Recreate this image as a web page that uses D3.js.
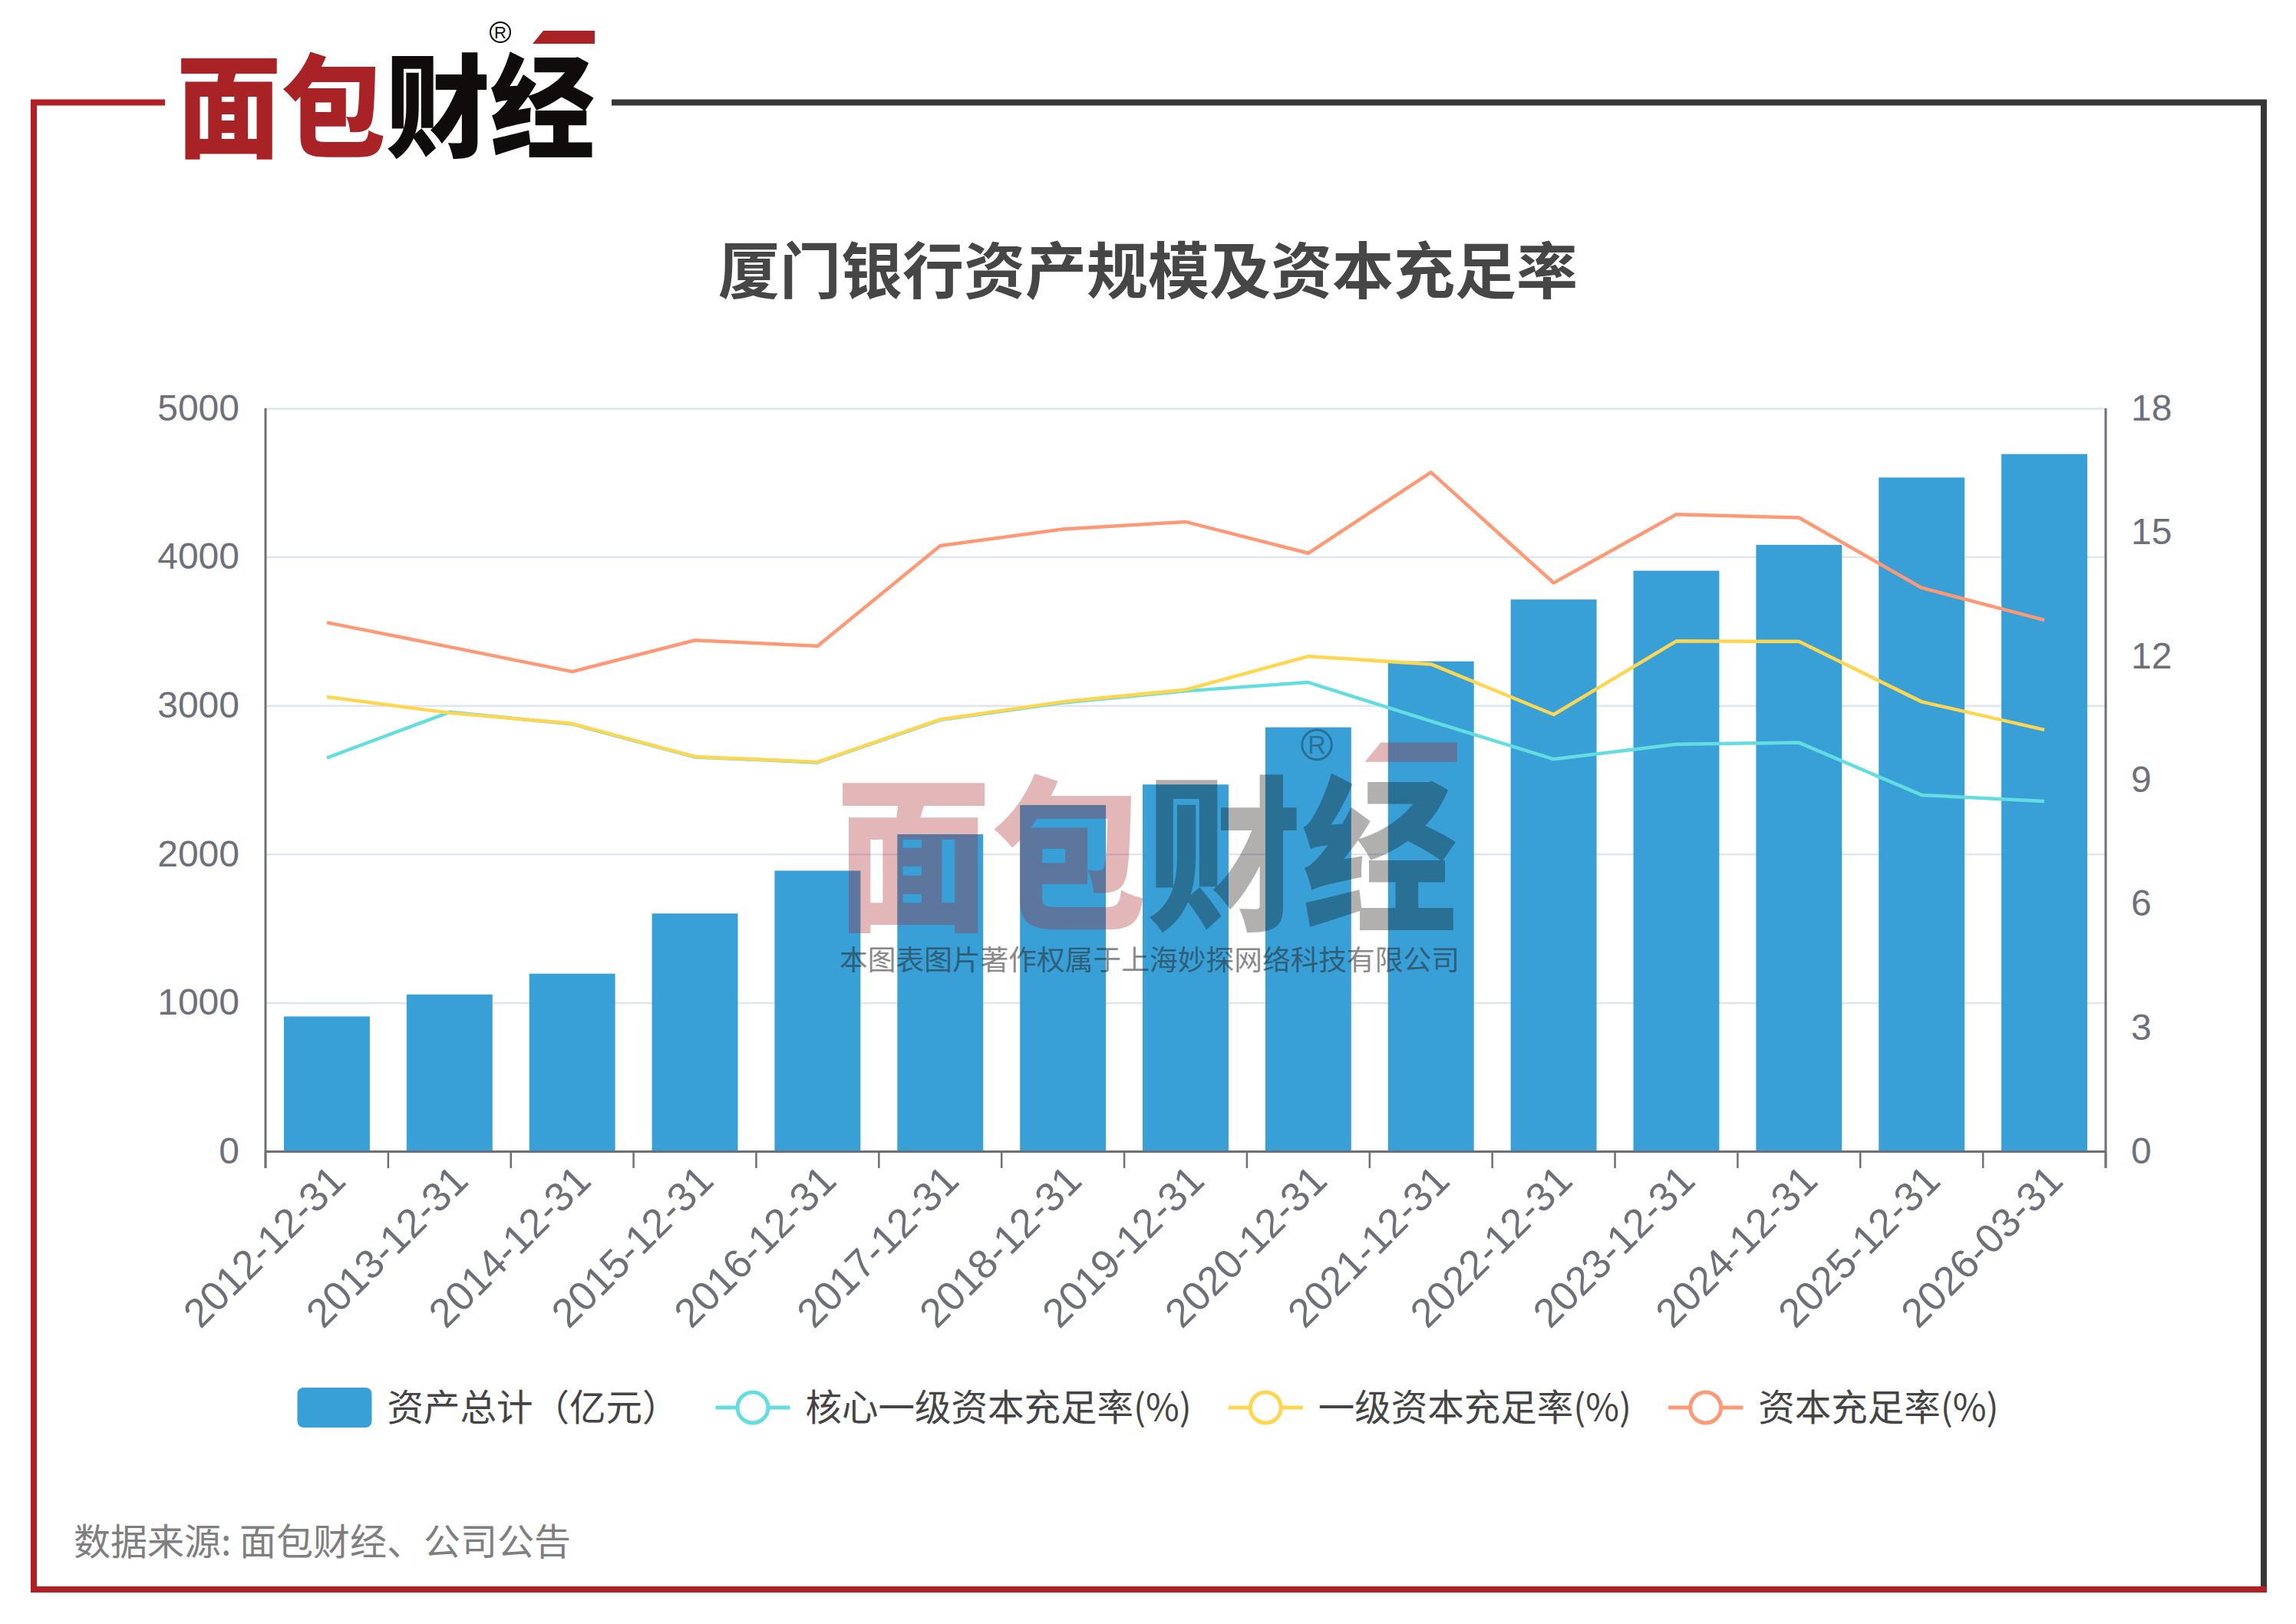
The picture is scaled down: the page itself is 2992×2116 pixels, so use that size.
<!DOCTYPE html>
<html>
<head>
<meta charset="utf-8">
<script src="https://cdn.jsdelivr.net/npm/d3@7.9.0/dist/d3.min.js"></script>
<style>
  body { margin: 0; background: #fff; }
  svg { display: block; }
  text { font-family: "Liberation Sans", Arial, sans-serif; }
  .cjk { font-family: "Noto Sans CJK SC", sans-serif; }
</style>
</head>
<body>
<svg id="chart"></svg>
<script>
// data
const dates = ['2012-12-31', '2013-12-31', '2014-12-31', '2015-12-31', '2016-12-31', '2017-12-31',
  '2018-12-31', '2019-12-31', '2020-12-31', '2021-12-31', '2022-12-31', '2023-12-31',
  '2024-12-31', '2025-12-31', '2026-03-31'];
const totalAssets = [907, 1055, 1195, 1600, 1888, 2133, 2330, 2468, 2853, 3297, 3713, 3907, 4081, 4534, 4692];
const coreTier1 = [9.53, 10.64, 10.35, 9.55, 9.42, 10.45, 10.87, 11.15, 11.36, 10.42, 9.50, 9.86, 9.90, 8.63, 8.48];
const tier1 = [11.01, 10.62, 10.36, 9.56, 9.43, 10.46, 10.89, 11.18, 11.99, 11.80, 10.58, 12.36, 12.35, 10.89, 10.21];
const capital = [12.81, 12.22, 11.62, 12.38, 12.24, 14.67, 15.07, 15.25, 14.49, 16.45, 13.77, 15.43, 15.35, 13.65, 12.87];
const leftTicks = [0, 1000, 2000, 3000, 4000, 5000];
const rightTicks = [0, 3, 6, 9, 12, 15, 18];

const title = '厦门银行资产规模及资本充足率';
const source = '数据来源: 面包财经、公司公告';
const legendNames = ['资产总计（亿元）', '核心一级资本充足率(%)', '一级资本充足率(%)', '资本充足率(%)'];

const width = 2992;
const height = 2116;
const colors = { bar: '#389fd7', core: '#63dde0', tier1: '#ffd64f', capital: '#ff9875' };
const axisColor = '#6e7079';
const red = '#b41e25';
const dark = '#363636';

const svg = d3.select('#chart').attr('width', width).attr('height', height);
svg.append('rect').attr('width', width).attr('height', height).attr('fill', '#fff');

const area = { left: 346, right: 2744, top: 532, bottom: 1500 };

// frame
const frame = svg.append('g');
frame.append('path').attr('d', 'M797,133.5 H2950 V2067').attr('fill', 'none').attr('stroke', dark).attr('stroke-width', 8);
frame.append('path').attr('d', 'M215,133.5 H44 V2071 H2954').attr('fill', 'none').attr('stroke', red).attr('stroke-width', 8);

// logo drawn in local coords: letters 545 wide, top at 0
function drawLogo(g, colRed, colDark) {
  const t = g.append('text').attr('class', 'cjk').attr('x', 0).attr('y', 121)
    .attr('font-size', 146).attr('font-weight', 900)
    .attr('textLength', 545).attr('lengthAdjust', 'spacingAndGlyphs');
  t.append('tspan').attr('fill', colRed).text('面包');
  t.append('tspan').attr('fill', colDark).text('财经');
  g.append('path').attr('d', 'M478,-32 H545 V-15 H464 Z').attr('fill', colRed);
  g.append('circle').attr('cx', 422).attr('cy', -30).attr('r', 13)
    .attr('fill', 'none').attr('stroke', colDark).attr('stroke-width', 2);
  g.append('text').attr('x', 422).attr('y', -22).attr('text-anchor', 'middle')
    .attr('font-size', 22).attr('fill', colDark).text('R');
}
drawLogo(svg.append('g').attr('transform', 'translate(230,72)'), '#a92226', '#0f0c0b');

// title
svg.append('text').attr('class', 'cjk').attr('x', 1496).attr('y', 382)
  .attr('text-anchor', 'middle').attr('font-size', 80).attr('font-weight', 700)
  .attr('fill', '#464646').text(title);

// scales
const x = d3.scaleBand().domain(dates).range([area.left, area.right]).paddingInner(0.3).paddingOuter(0.15);
const yL = d3.scaleLinear().domain([0, 5000]).range([area.bottom, area.top]);
const yR = d3.scaleLinear().domain([0, 18]).range([area.bottom, area.top]);
const cx = d => x(d) + x.bandwidth() / 2;

// gridlines
svg.append('g')
  .attr('transform', `translate(${area.left},0)`)
  .call(d3.axisLeft(yL).tickValues(leftTicks.slice(1)).tickFormat('').tickSize(-(area.right - area.left)))
  .call(g => g.select('.domain').remove())
  .call(g => g.selectAll('line').attr('stroke', '#e0e6f1').attr('stroke-width', 2.5));

// bars
svg.append('g').selectAll('rect').data(dates).join('rect')
  .attr('x', d => x(d)).attr('width', x.bandwidth())
  .attr('y', (d, i) => yL(totalAssets[i]))
  .attr('height', (d, i) => yL(0) - yL(totalAssets[i]))
  .attr('fill', colors.bar);

// lines
const line = d3.line().x((d, i) => cx(dates[i])).y(d => yR(d));
[[coreTier1, colors.core], [tier1, colors.tier1], [capital, colors.capital]].forEach(([vals, c]) => {
  svg.append('path').datum(vals).attr('d', line)
    .attr('fill', 'none').attr('stroke', c).attr('stroke-width', 4.5)
    .attr('stroke-linejoin', 'round');
});

// axes
const tickLen = 22;
const leftAxis = svg.append('g').attr('transform', `translate(${area.left},0)`)
  .call(d3.axisLeft(yL).tickValues(leftTicks).tickFormat(d3.format('d')).tickSize(0).tickPadding(34).tickSizeOuter(0));
const rightAxis = svg.append('g').attr('transform', `translate(${area.right},0)`)
  .call(d3.axisRight(yR).tickValues(rightTicks).tickSize(0).tickPadding(33).tickSizeOuter(0));
[leftAxis, rightAxis].forEach(g => {
  g.select('.domain').remove();
  g.selectAll('text').attr('font-size', 48).attr('fill', axisColor)
    .attr('font-family', '"Liberation Sans", Arial, sans-serif');
});
// vertical axis lines reach down through the bottom tick
svg.append('line').attr('x1', area.left).attr('x2', area.left).attr('y1', area.top).attr('y2', area.bottom + tickLen)
  .attr('stroke', axisColor).attr('stroke-width', 3);
svg.append('line').attr('x1', area.right).attr('x2', area.right).attr('y1', area.top).attr('y2', area.bottom + tickLen)
  .attr('stroke', axisColor).attr('stroke-width', 3);

const xAxis = svg.append('g').attr('transform', `translate(0,${area.bottom})`)
  .call(d3.axisBottom(x).tickSize(0).tickSizeOuter(0).tickFormat(''));
xAxis.select('.domain').attr('stroke', axisColor).attr('stroke-width', 3);
// ticks on band boundaries
const boundaries = dates.map((d, i) => x(d) - x.step() * x.paddingInner() / 2).concat([area.right]);
boundaries[0] = area.left;
xAxis.selectAll('.bound').data(boundaries).join('line').attr('class', 'bound')
  .attr('x1', d => d).attr('x2', d => d).attr('y1', 0).attr('y2', tickLen)
  .attr('stroke', axisColor).attr('stroke-width', 2.5);
xAxis.selectAll('.lbl').data(dates).join('text').attr('class', 'lbl')
  .attr('transform', d => `translate(${cx(d) + 14},${28}) rotate(-45)`)
  .attr('text-anchor', 'end').attr('dy', '0.35em')
  .attr('font-size', 53).attr('fill', axisColor).text(d => d);

// legend
const legend = svg.append('g');
const legendY = 1834;
const iconW = 97, iconGap = 20, itemGap = 48;
const legendColors = [colors.bar, colors.core, colors.tier1, colors.capital];
let cursor = 0;
legendNames.forEach((name, i) => {
  const g = legend.append('g').attr('transform', `translate(${cursor},0)`);
  if (i === 0) {
    g.append('rect').attr('x', 0).attr('y', legendY - 26).attr('width', iconW).attr('height', 52)
      .attr('rx', 8).attr('fill', legendColors[i]);
  } else {
    g.append('line').attr('x1', 0).attr('x2', iconW).attr('y1', legendY).attr('y2', legendY)
      .attr('stroke', legendColors[i]).attr('stroke-width', 5);
    g.append('circle').attr('cx', iconW / 2).attr('cy', legendY).attr('r', 20)
      .attr('fill', '#fff').attr('stroke', legendColors[i]).attr('stroke-width', 5);
  }
  const t = g.append('text').attr('class', 'cjk').attr('x', iconW + iconGap).attr('y', legendY)
    .attr('dy', '0.36em').attr('font-size', 47.5).attr('fill', '#444').text(name);
  cursor += iconW + iconGap + t.node().getComputedTextLength() + itemGap;
});
const legendW = cursor - itemGap;
legend.attr('transform', `translate(${1496 - legendW / 2},0)`);

// watermark
const wm = svg.append('g').attr('transform', 'translate(1089,1015) scale(1.486)').attr('opacity', 0.32);
drawLogo(wm, '#a92226', '#0f0c0b');
svg.append('text').attr('class', 'cjk').attr('x', 1094).attr('y', 1264)
  .attr('font-size', 36).attr('fill', '#2a2a2a').attr('opacity', 0.55)
  .attr('textLength', 808).attr('lengthAdjust', 'spacingAndGlyphs')
  .text('本图表图片著作权属于上海妙探网络科技有限公司');

// source
svg.append('text').attr('class', 'cjk').attr('x', 96).attr('y', 2026)
  .attr('font-size', 48).attr('fill', '#7f7f7f').text(source);
</script>
</body>
</html>
